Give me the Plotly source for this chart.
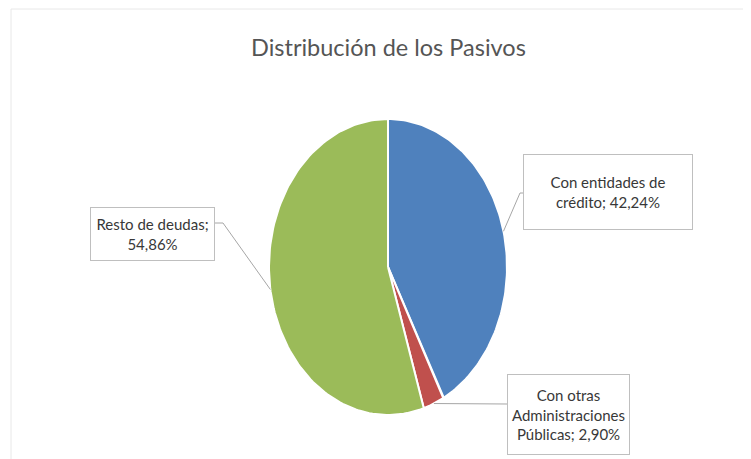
import numpy as np
import plotly.graph_objects as go

# datos del gráfico
categorias = ["Con entidades de crédito", "Con otras Administraciones Públicas", "Resto de deudas"]
porcentajes = [42.24, 2.90, 54.86]
etiquetas = ["Con entidades de<br>crédito; 42,24%",
             "Con otras<br>Administraciones<br>Públicas; 2,90%",
             "Resto de deudas;<br>54,86%"]
colores = ["#4F81BD", "#C0504D", "#9BBB59"]

# geometria (pixeles de la imagen)
cx, cy, rx, ry = 388, 267, 119, 148
cajas = [(608, 192, 170, 76), (568, 414, 123, 81), (152, 234, 125, 54)]
codos = [[(520, 193), (523, 193)], [(470, 404), (507, 404)], [(223, 223), (214, 223)]]

def punto(frac):
    t = 2 * np.pi * frac
    return cx + rx * np.sin(t), cy - ry * np.cos(t)

fig = go.Figure()
total = sum(porcentajes)
acum = 0
for cat, val, col in zip(categorias, porcentajes, colores):
    f0 = acum / total
    f1 = (acum + val) / total
    fr = np.linspace(f0, f1, 120)
    xs = [cx] + [punto(f)[0] for f in fr] + [cx]
    ys = [cy] + [punto(f)[1] for f in fr] + [cy]
    fig.add_trace(go.Scatter(x=xs, y=ys, fill="toself", fillcolor=col, mode="lines",
                             line=dict(color="white", width=2), name=cat, hoverinfo="name"))
    acum += val

acum = 0
for val, txt, caja, codo in zip(porcentajes, etiquetas, cajas, codos):
    fm = (acum + val / 2) / total
    px, py = punto(fm)
    lx = [px] + [c[0] for c in codo]
    ly = [py] + [c[1] for c in codo]
    fig.add_trace(go.Scatter(x=lx, y=ly, mode="lines", line=dict(color="#a6a6a6", width=1),
                             hoverinfo="skip", showlegend=False))
    fig.add_annotation(x=caja[0], y=caja[1], xref="x", yref="y", text=txt, showarrow=False,
                       width=caja[2] - 4, height=caja[3] - 4, bordercolor="#bfbfbf", borderwidth=1,
                       bgcolor="white", font=dict(family="Lato", size=15, color="#383838"))
    acum += val

fig.add_annotation(x=388, y=47, xref="x", yref="y", text="Distribución de los Pasivos", showarrow=False,
                   font=dict(family="Lato", size=23.5, color="#555555"))

fig.add_shape(type="rect", x0=11, y0=9, x1=760, y1=470, xref="x", yref="y",
              line=dict(color="#e8e8e8", width=1), layer="below")

# la pagina tiene 8px de margen, el eje empieza en 8 para que coincida con los pixeles
fig.update_layout(width=743, height=451, margin=dict(l=0, r=0, t=0, b=0),
                  paper_bgcolor="white", plot_bgcolor="white", showlegend=False,
                  xaxis=dict(range=[8, 751], visible=False, fixedrange=True),
                  yaxis=dict(range=[459, 8], visible=False, fixedrange=True))
fig.write_html("out.html")
